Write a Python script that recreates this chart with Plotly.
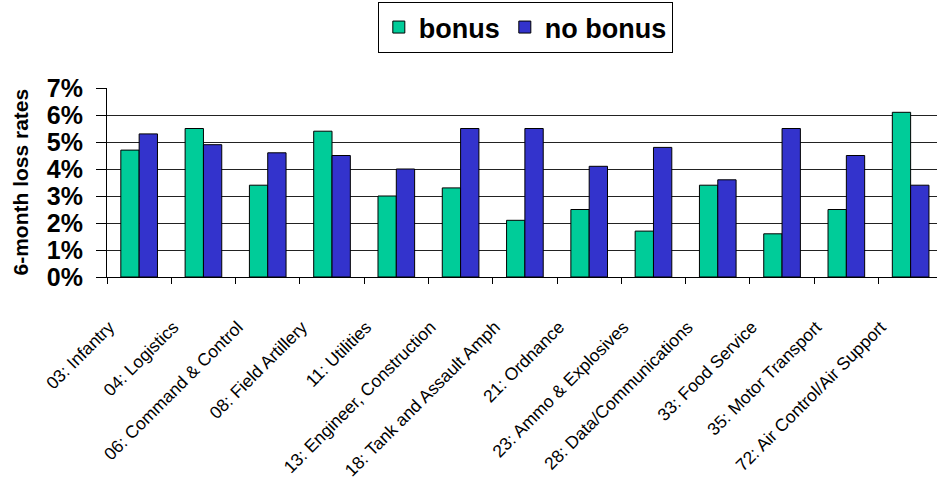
import plotly.graph_objects as go

categories = [
    "03: Infantry", "04: Logistics", "06: Command & Control", "08: Field Artillery",
    "11: Utilities", "13: Engineer, Construction", "18: Tank and Assault Amph",
    "21: Ordnance", "23: Ammo & Explosives", "28: Data/Communications",
    "33: Food Service", "35: Motor Transport", "72: Air Control/Air Support",
]
bonus = [4.7, 5.5, 3.4, 5.4, 3.0, 3.3, 2.1, 2.5, 1.7, 3.4, 1.6, 2.5, 6.1]
no_bonus = [5.3, 4.9, 4.6, 4.5, 4.0, 5.5, 5.5, 4.1, 4.8, 3.6, 5.5, 4.5, 3.4]
y_ticks = [0, 1, 2, 3, 4, 5, 6, 7]
y_tick_labels = ["0%", "1%", "2%", "3%", "4%", "5%", "6%", "7%"]
y_title = "6-month loss rates"

FONT = "Liberation Sans, Arial, sans-serif"

fig = go.Figure()
fig.add_trace(go.Bar(name="bonus", x=categories, y=bonus,
                     marker=dict(color="#00CC99", line=dict(color="#000000", width=1))))
fig.add_trace(go.Bar(name="no bonus", x=categories, y=no_bonus,
                     marker=dict(color="#3333CC", line=dict(color="#000000", width=1))))

fig.update_layout(
    width=937, height=489,
    margin=dict(l=107, r=0, t=88, b=212, autoexpand=False),
    paper_bgcolor="white", plot_bgcolor="white",
    barmode="group", bargap=0.43, bargroupgap=0,
    font=dict(family=FONT, color="#000000"),
    legend=dict(
        orientation="h", x=0.504, xanchor="center", y=1.455, yanchor="top",
        font=dict(size=27, weight="bold", family=FONT),
        bordercolor="#000000", borderwidth=1, bgcolor="white",
        itemwidth=30, tracegroupgap=0,
    ),
    showlegend=True,
)

fig.add_annotation(
    text=y_title, xref="paper", yref="paper", x=-0.1048, y=0.5,
    xanchor="center", yanchor="middle", textangle=-90, showarrow=False,
    font=dict(size=21, weight="bold", family=FONT, color="#000000"),
)

fig.update_xaxes(
    type="category", range=[-0.5, 12.41],
    showline=True, linecolor="#000000", linewidth=1,
    ticks="outside", tickson="boundaries", ticklen=6, tickcolor="#000000",
    tickangle=-45, tickfont=dict(size=17.5, family=FONT),
    ticklabelshift=-30, ticklabelstandoff=32,
    showgrid=False,
)
fig.update_yaxes(
    range=[0, 7], tickvals=y_ticks, ticktext=y_tick_labels,
    showline=True, linecolor="#000000", linewidth=1,
    ticks="outside", ticklen=10, tickcolor="#000000",
    showgrid=True, gridcolor="#222222", gridwidth=1.2,
    zeroline=False,
    tickfont=dict(size=25, weight="bold", family=FONT),
    ticklabelstandoff=8,
)

fig.write_html("out.html")
